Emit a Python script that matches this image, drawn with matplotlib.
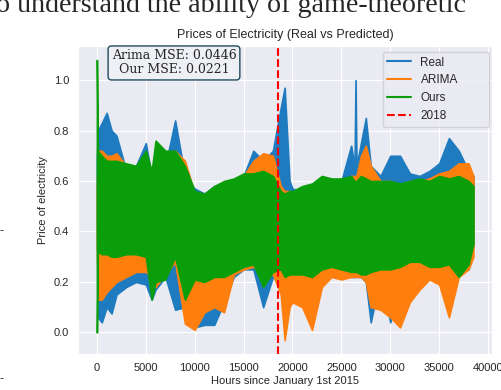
import numpy as np
import matplotlib.pyplot as plt
import seaborn as sns

# envelopes (min / max) of the hourly series
hours = [0, 100, 500, 1000, 1500, 2000, 3000, 4000, 5000, 5600, 6000, 7000, 8000,
         9000, 10000, 11000, 12000, 13000, 14000, 15000, 16000, 17000, 18000,
         18800, 19200, 19700, 20000, 21000, 22000, 23000, 24000, 25000, 26000,
         26350, 26450, 26550, 27000, 27500, 28000, 29000, 30000, 31000, 32000,
         33000, 34000, 35000, 36000, 37000, 38000, 38500]

real_lo = [0.45, 0.06, 0.04, 0.10, 0.075, 0.15, 0.18, 0.20, 0.19, 0.13, 0.17, 0.22, 0.09,
           0.10, 0.02, 0.03, 0.03, 0.12, 0.22, 0.25, 0.25, 0.10, 0.22,
           0.20, 0.20, 0.22, 0.20, 0.20, 0.20, 0.22, 0.24, 0.23, 0.22,
           0.22, 0.22, 0.22, 0.22, 0.20, 0.04, 0.22, 0.04, 0.22, 0.22,
           0.24, 0.24, 0.24, 0.24, 0.24, 0.25, 0.35]
real_hi = [0.69, 0.80, 0.83, 0.87, 0.80, 0.78, 0.64, 0.66, 0.75, 0.62, 0.65, 0.66, 0.84,
           0.62, 0.57, 0.55, 0.58, 0.58, 0.60, 0.62, 0.72, 0.68, 0.72,
           0.89, 0.97, 0.60, 0.57, 0.56, 0.58, 0.60, 0.60, 0.60, 0.74,
           0.66, 1.00, 0.66, 0.75, 0.85, 0.66, 0.62, 0.70, 0.70, 0.63,
           0.62, 0.64, 0.67, 0.77, 0.72, 0.64, 0.62]

arima_lo = [0.34, 0.13, 0.13, 0.16, 0.18, 0.20, 0.22, 0.24, 0.24, 0.22, 0.18, 0.23, 0.28,
            0.035, 0.01, 0.08, 0.10, 0.08, 0.23, 0.25, 0.26, 0.23, 0.23,
            0.15, -0.03, 0.10, 0.12, 0.10, 0.01, 0.18, 0.22, 0.21, 0.22,
            0.22, 0.22, 0.22, 0.22, 0.20, 0.10, 0.09, 0.06, 0.02, 0.12,
            0.17, 0.21, 0.19, 0.06, 0.22, 0.25, 0.30]
arima_hi = [0.58, 0.72, 0.72, 0.70, 0.70, 0.71, 0.66, 0.64, 0.70, 0.64, 0.66, 0.68, 0.72,
            0.68, 0.55, 0.52, 0.56, 0.58, 0.60, 0.62, 0.68, 0.71, 0.70,
            0.58, 0.56, 0.56, 0.55, 0.56, 0.58, 0.60, 0.60, 0.60, 0.62,
            0.62, 0.62, 0.62, 0.70, 0.74, 0.66, 0.60, 0.60, 0.58, 0.60,
            0.60, 0.61, 0.63, 0.64, 0.67, 0.67, 0.62]

ours_lo = [0.00, 0.32, 0.31, 0.31, 0.30, 0.30, 0.31, 0.31, 0.30, 0.13, 0.20, 0.21, 0.30,
           0.13, 0.21, 0.20, 0.22, 0.22, 0.24, 0.26, 0.27, 0.18, 0.24,
           0.25, 0.22, 0.23, 0.23, 0.23, 0.22, 0.25, 0.26, 0.25, 0.24,
           0.24, 0.24, 0.24, 0.23, 0.23, 0.24, 0.25, 0.25, 0.26, 0.28,
           0.28, 0.26, 0.26, 0.27, 0.22, 0.27, 0.35]
ours_hi = [1.08, 0.72, 0.70, 0.68, 0.68, 0.68, 0.67, 0.66, 0.72, 0.64, 0.76, 0.72, 0.72,
           0.66, 0.56, 0.55, 0.58, 0.60, 0.61, 0.63, 0.63, 0.64, 0.62,
           0.56, 0.55, 0.56, 0.56, 0.58, 0.59, 0.62, 0.61, 0.61, 0.62,
           0.60, 0.60, 0.60, 0.62, 0.61, 0.60, 0.60, 0.60, 0.59, 0.60,
           0.61, 0.60, 0.62, 0.61, 0.62, 0.60, 0.58]

split_2018 = 18540
mse_arima = 0.0446
mse_ours = 0.0221

sns.set_style("darkgrid")
plt.rcParams['font.family'] = ['Liberation Sans', 'DejaVu Sans']

fig = plt.figure(figsize=(5.02, 3.9), dpi=100)
ax = fig.add_axes([0.156, 0.092, 0.825, 0.79])

x = np.array(hours)
series = [
    ("Real", real_lo, real_hi, "#1f7bbf"),
    ("ARIMA", arima_lo, arima_hi, "#ff7f0e"),
    ("Ours", ours_lo, ours_hi, "#0a9e0a"),
]
for name, lo, hi, c in series:
    ax.fill_between(x, lo, hi, color=c, linewidth=1.2, edgecolor=c)
    ax.plot([], [], color=c, lw=1.5, label=name)

ax.axvline(split_2018, color="red", ls="--", lw=1.5, label="2018")

ax.set_xlim(-1900, 40450)
ax.set_ylim(-0.086, 1.135)
ax.set_xticks(range(0, 40001, 5000))
ax.set_yticks([0.0, 0.2, 0.4, 0.6, 0.8, 1.0])
ax.tick_params(labelsize=8, pad=3)

ax.set_title("Prices of Electricity (Real vs Predicted)", fontsize=9, pad=6)
ax.set_xlabel("Hours since January 1st 2015", fontsize=8, labelpad=2)
ax.set_ylabel("Price of electricity", fontsize=8, labelpad=4)

ax.legend(loc="upper left", bbox_to_anchor=(0.735, 0.981, 0.256, 0.0), mode="expand",
          fontsize=8.5, borderaxespad=0, labelspacing=0.5, handlelength=2.0)

ax.text(0.231, 0.945, f"Arima MSE: {mse_arima}\nOur MSE: {mse_ours}",
        transform=ax.transAxes, ha="center", va="center", fontsize=9,
        family="DejaVu Serif", linespacing=1.1,
        bbox=dict(boxstyle="round,pad=0.28", facecolor="#EEF0F5", edgecolor="#1f4a5c", lw=1))

# surrounding paper text visible in the crop
fig.text(-0.008, 0.970, "o understand the ability of game-theoretic",
         family="Liberation Serif", fontsize=20.2, va="baseline", ha="left")
fig.text(0.0, 0.40, "-", fontsize=9)
fig.text(0.0, 0.02, "-", fontsize=9)

fig.savefig("out.png", dpi=100)
